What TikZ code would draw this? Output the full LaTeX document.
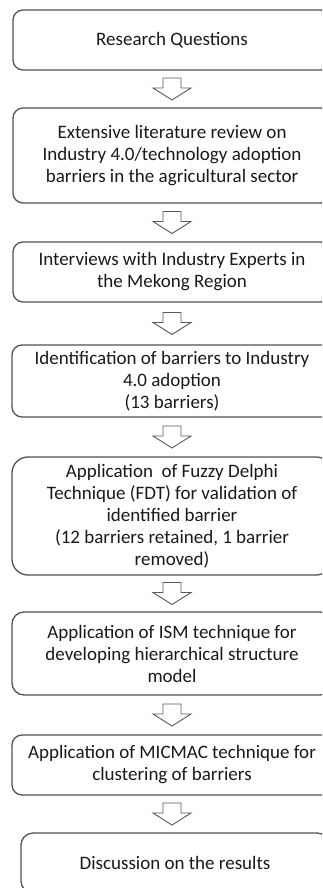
\documentclass[tikz,border=0pt]{standalone}
\usepackage{fontspec}
\setmainfont{Carlito}
\begin{document}
\begin{tikzpicture}[x=1pt,y=-1pt,
  stepbox/.style={draw=black!68, line width=1.3pt, rounded corners=10pt,
    minimum width=318pt, inner sep=0pt, align=center, text=black!90,
    font=\fontsize{19}{22}\selectfont},
  arrowline/.style={draw=black!65, line width=0.9pt, fill=white, line join=miter},
  hollowarrow/.pic={\draw[arrowline] (-9pt,11pt) -- (9pt,11pt) -- (9pt,1pt) -- (19pt,1pt)
      -- (0pt,-11pt) -- (-19pt,1pt) -- (-9pt,1pt) -- cycle;}]
\useasboundingbox (0,0) rectangle (322,888);
\clip (0,0) rectangle (322,888);
\node[stepbox, minimum height=60pt] (b1) at (172,40) {Research Questions};
\node[stepbox, minimum height=95pt] (b2) at (172,155.5) {Extensive literature review on\\Industry 4.0/technology adoption\\barriers in the agricultural sector};
\node[stepbox, minimum height=60pt] (b3) at (172,272) {Interviews with Industry Experts in\\the Mekong Region};
\node[stepbox, minimum height=72pt, minimum width=320pt] (b4) at (172,381) {Identification of barriers to Industry\\4.0 adoption\\(13 barriers)};
\node[stepbox, minimum height=118pt, minimum width=320pt, rounded corners=16pt] (b5) at (172,516) {Application\ \ of Fuzzy Delphi\\Technique (FDT) for validation of\\identified barrier\\(12 barriers retained, 1 barrier\\removed)};
\node[stepbox, minimum height=83pt, minimum width=320pt, rounded corners=12pt] (b6) at (172,653.5) {Application of ISM technique for\\developing hierarchical structure\\model};
\node[stepbox, minimum height=60pt, minimum width=320pt] (b7) at (172,765) {Application of MICMAC technique for\\clustering of barriers};
\node[stepbox, minimum height=60pt, minimum width=308pt, rounded corners=12pt] (b8) at (175,863) {Discussion on the results};
\foreach \a/\b in {b1/b2,b2/b3,b3/b4,b4/b5,b5/b6,b6/b7,b7/b8}{
  \path (\a.south) -- (\b.north) coordinate[pos=0.5] (m\a);
  \pic at (172,0 |- m\a) {hollowarrow};
}
\end{tikzpicture}
\end{document}
